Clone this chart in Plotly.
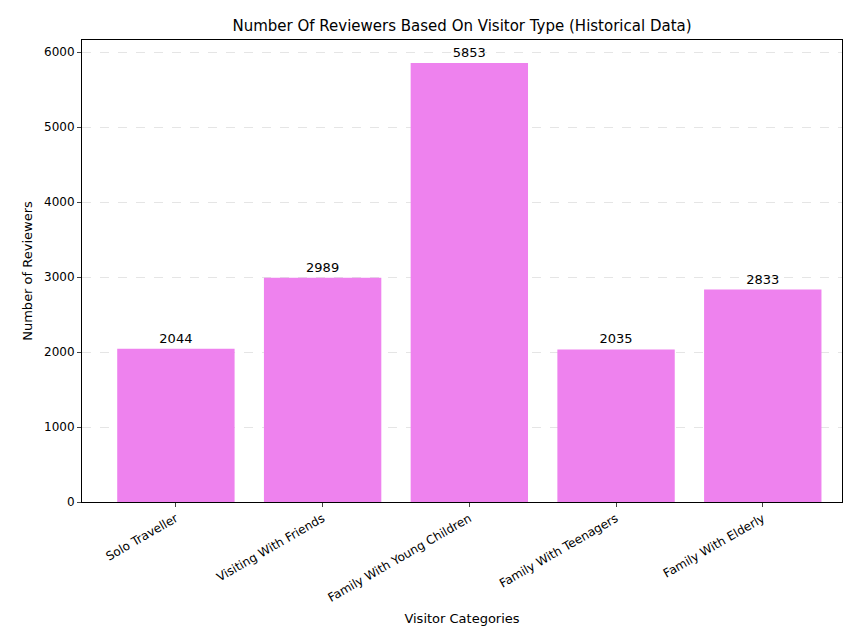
import plotly.graph_objects as go

categories = ["Solo Traveller", "Visiting With Friends", "Family With Young Children",
              "Family With Teenagers", "Family With Elderly"]
reviewers = [2044, 2989, 5853, 2035, 2833]

fig = go.Figure(go.Bar(
    x=list(range(len(categories))), y=reviewers,
    marker_color="#EE82EE", marker_line_width=0, width=0.8,
    text=[str(v) for v in reviewers], textposition="outside",
    textfont=dict(size=13, color="black"), cliponaxis=False,
))

fig.update_layout(
    width=859, height=640,
    margin=dict(l=74, r=25, t=32, b=146),
    plot_bgcolor="white", paper_bgcolor="white",
    font=dict(family="DejaVu Sans", size=12, color="black"),
    showlegend=False,
    title=dict(text="Number Of Reviewers Based On Visitor Type (Historical Data)",
               x=0.5, xanchor="center", xref="paper", y=0.972, yanchor="middle",
               font=dict(size=15)),
    xaxis=dict(
        tickmode="array", tickvals=list(range(len(categories))), ticktext=categories,
        tickangle=-30, range=[-0.64, 4.54], showgrid=False, zeroline=False,
        showline=True, linecolor="black", mirror=True, ticks="outside", ticklen=4,
        automargin=False,
        title=dict(text="Visitor Categories", standoff=10, font=dict(size=13)),
    ),
    yaxis=dict(
        range=[0, 6160], dtick=1000, showgrid=True, gridcolor="#e5e5e5",
        griddash="dash", zeroline=False, showline=True, linecolor="black",
        mirror=True, ticks="outside", ticklen=4, automargin=False,
        title=dict(text="Number of Reviewers", standoff=8, font=dict(size=13)),
    ),
    uniformtext=dict(minsize=13),
)

fig.write_html("out.html")
